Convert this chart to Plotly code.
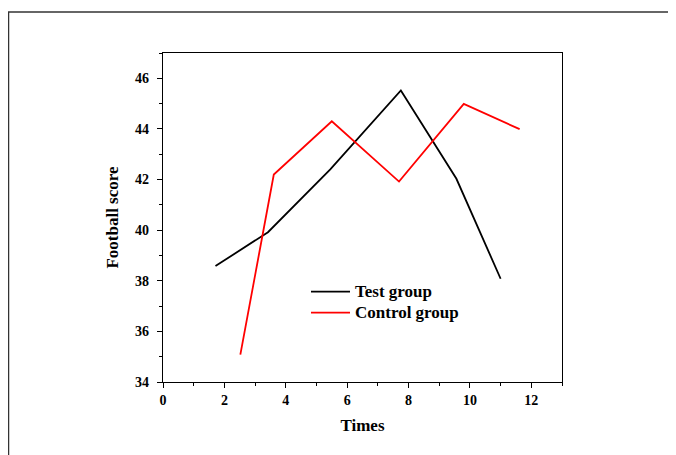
import plotly.graph_objects as go

test_x = [1.71, 3.42, 5.45, 7.75, 9.56, 11.0]
test_y = [38.58, 39.92, 42.4, 45.52, 42.03, 38.08]
ctrl_x = [2.52, 3.61, 5.50, 7.69, 9.80, 11.62]
ctrl_y = [35.08, 42.2, 44.30, 41.92, 44.99, 43.99]
series_names = ["Test group", "Control group"]
series_colors = ["black", "#ff0000"]

W, H = 676, 455
# plot area in figure pixel coordinates
L, R, T, B = 155, 554, 45, 374

fig = go.Figure()
fig.add_trace(go.Scatter(x=test_x, y=test_y, mode="lines", name=series_names[0],
                         line=dict(color=series_colors[0], width=1.8)))
fig.add_trace(go.Scatter(x=ctrl_x, y=ctrl_y, mode="lines", name=series_names[1],
                         line=dict(color=series_colors[1], width=1.8)))

def px(xp):
    return (xp - L) / (R - L)

def py(yp):
    return (B - yp) / (B - T)

font = "Liberation Serif, Times New Roman, serif"
axis_common = dict(showline=True, linecolor="black", linewidth=1.3, mirror=True,
                   ticks="outside", ticklen=5, tickwidth=1.3, tickcolor="black",
                   showgrid=False, zeroline=False,
                   tickfont=dict(family=font, size=14, color="black", weight="bold"),
                   minor=dict(ticks="outside", ticklen=3, tickwidth=1.2, tickcolor="black", dtick=1))

shapes = [
    dict(type="line", xref="paper", yref="paper", x0=px(0), y0=py(4), x1=px(700), y1=py(4),
         line=dict(color="#333333", width=1.5)),
    dict(type="line", xref="paper", yref="paper", x0=px(0.5), y0=py(4), x1=px(0.5), y1=py(470),
         line=dict(color="#333333", width=1.5)),
]
annotations = []
leg_y = [283.7, 304.7]
for name, color, ly in zip(series_names, series_colors, leg_y):
    shapes.append(dict(type="line", xref="paper", yref="paper", x0=px(303), x1=px(342),
                       y0=py(ly), y1=py(ly), line=dict(color=color, width=1.8)))
    annotations.append(dict(text=name, xref="paper", yref="paper", x=px(345), y=py(ly),
                            xanchor="left", yanchor="middle", showarrow=False,
                            font=dict(family=font, size=17, color="black", weight="bold")))

fig.update_layout(
    width=W, height=H,
    margin=dict(l=L, r=W - R, t=T, b=H - B),
    paper_bgcolor="white", plot_bgcolor="white",
    showlegend=False,
    xaxis=dict(range=[0, 13], tickvals=[0, 2, 4, 6, 8, 10, 12],
               title=dict(text="Times", font=dict(family=font, size=17, color="black", weight="bold"),
                          standoff=12),
               **axis_common),
    yaxis=dict(range=[34, 47], tickvals=[34, 36, 38, 40, 42, 44, 46], ticklabelstandoff=5,
               title=dict(text="Football score", font=dict(family=font, size=17, color="black", weight="bold"),
                          standoff=12),
               **axis_common),
    shapes=shapes,
    annotations=annotations,
)

fig.write_html("out.html")
